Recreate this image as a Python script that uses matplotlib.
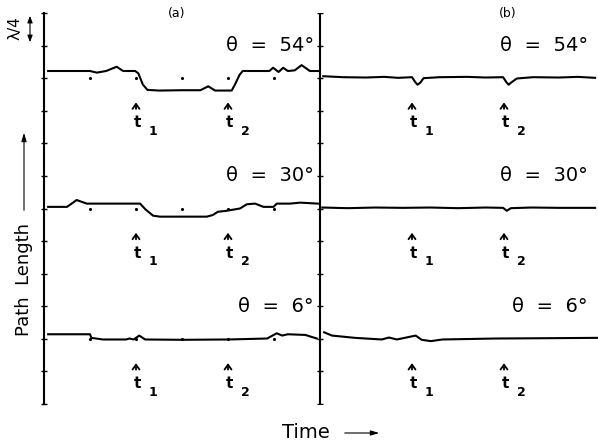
import matplotlib
matplotlib.use('Agg')
import matplotlib.pyplot as plt

# time in units of the dotted grid (t1 = 2, t2 = 4), path length in units of lambda/4 ticks
t_a54 = [0.09, 1.0, 1.15, 1.35, 1.58, 1.72, 1.98, 2.05, 2.15, 2.25, 2.5, 3.0, 3.4, 3.57, 3.72,
         4.08, 4.15, 4.25, 4.32, 4.9, 4.98, 5.1, 5.2, 5.3, 5.45, 5.6, 5.78, 5.96]
p_a54 = [10.22, 10.22, 10.17, 10.22, 10.35, 10.22, 10.22, 10.15, 9.8, 9.64, 9.62, 9.63, 9.63, 9.75, 9.62,
         9.62, 9.8, 10.1, 10.22, 10.22, 10.32, 10.19, 10.32, 10.22, 10.24, 10.40, 10.22, 10.22]

t_b54 = [0.07, 0.5, 1.0, 1.4, 1.7, 2.0, 2.07, 2.12, 2.18, 2.25, 2.6, 3.2, 3.6, 3.98, 4.05, 4.1,
         4.16, 4.28, 4.63, 5.2, 5.6, 5.98]
p_b54 = [10.06, 10.03, 10.02, 10.04, 10.01, 10.03, 9.88, 9.8, 9.86, 10.0, 10.03, 10.04, 10.02, 10.03,
         9.88, 9.8, 9.87, 9.99, 10.03, 10.02, 10.04, 10.01]

t_a30 = [0.09, 0.5, 0.71, 0.93, 2.09, 2.2, 2.37, 2.52, 3.54, 3.67, 3.78, 3.97, 4.26, 4.41, 4.59,
         4.77, 4.99, 5.06, 5.35, 5.57, 5.96]
p_a30 = [6.05, 6.05, 6.26, 6.15, 6.15, 5.98, 5.78, 5.75, 5.75, 5.80, 5.90, 5.93, 6.0, 6.13, 6.15,
         6.05, 6.05, 6.15, 6.15, 6.18, 6.15]

t_b30 = [0.05, 0.6, 1.2, 1.8, 2.4, 3.0, 3.6, 3.98, 4.06, 4.15, 4.6, 5.2, 5.98]
p_b30 = [6.03, 6.01, 6.03, 6.02, 6.03, 6.01, 6.03, 6.02, 5.93, 6.01, 6.03, 6.02, 6.02]

t_a6 = [0.09, 1.0, 1.03, 1.28, 1.78, 1.86, 1.95, 2.07, 2.2, 3.0, 4.0, 4.85, 5.06, 5.18, 5.3, 5.68, 5.93]
p_a6 = [2.14, 2.14, 2.03, 1.98, 1.98, 2.01, 1.98, 2.10, 1.98, 1.97, 1.98, 2.01, 2.17, 2.10, 2.14, 2.12, 2.01]

t_b6 = [0.09, 0.26, 0.76, 1.34, 1.5, 1.67, 2.08, 2.21, 2.41, 2.66, 3.82, 5.0, 6.02]
p_b6 = [2.2, 2.1, 2.03, 1.98, 2.04, 1.98, 2.10, 1.97, 1.93, 1.98, 2.01, 2.02, 2.03]

angles = ['54', '30', '6']
baselines = [10, 6, 2]
t_events = [2, 4]
grid_times = [1, 2, 3, 4, 5]

fig = plt.figure(figsize=(5.98, 4.46), dpi=100)
ax = fig.add_axes([44/598, 42/446, 554/598, 391/446])
ax.set_xlim(0, 554/46)
ax.set_ylim(0, 12)
for s in ['top', 'right', 'bottom']:
    ax.spines[s].set_visible(False)
ax.spines['left'].set_linewidth(1.5)
ax.set_xticks([])
ax.set_yticks(range(13))
ax.set_yticklabels([])
ax.tick_params(axis='y', direction='inout', length=4, width=1)

# middle axis with its ticks
ax.axvline(6, color='k', lw=1.5)
ax.plot([6]*13, range(13), ls='none', marker='_', ms=5, mew=1, color='k')

# traces
traces = [(t_a54, p_a54, t_b54, p_b54), (t_a30, p_a30, t_b30, p_b30), (t_a6, p_a6, t_b6, p_b6)]
for (ta, pa, tb, pb) in traces:
    ax.plot(ta, pa, color='k', lw=1.5, solid_joinstyle='round')
    ax.plot([6 + t for t in tb], pb, color='k', lw=1.5, solid_joinstyle='round')

# grid dots of panel (a)
for b in baselines:
    ax.plot(grid_times, [b]*len(grid_times), ls='none', marker='.', ms=2.5, color='k')

for ang, b in zip(angles, baselines):
    ax.text(5.87, b + 1.0, 'θ  =  ' + ang + '°', ha='right', va='center', fontsize=14)
    ax.text(11.82, b + 1.0, 'θ  =  ' + ang + '°', ha='right', va='center', fontsize=14)
    for off in [0, 6]:
        for k, te in enumerate(t_events):
            x = off + te
            ax.annotate('', xy=(x, b - 0.66), xytext=(x, b - 1.03),
                        arrowprops=dict(arrowstyle='->,head_length=0.35,head_width=0.25', lw=1.3, color='k'))
            ax.text(x + 0.04, b - 1.37, 't', ha='center', va='center', fontsize=11, fontweight='bold')
            ax.text(x + 0.37, b - 1.64, str(k + 1), ha='center', va='center', fontsize=9, fontweight='bold')

ax.text(2.89, 12.0, '(a)', ha='center', va='center', fontsize=9)
ax.text(10.07, 12.0, '(b)', ha='center', va='center', fontsize=9)

# axis labels
fig.text(24/598, 1 - 280/446, 'Path  Length', rotation=90, ha='center', va='center', fontsize=13)
fig.text(306/598, 1 - 433/446, 'Time', ha='center', va='center', fontsize=14)
ax.annotate('', xy=(24/598, 1 - 130/446), xytext=(24/598, 1 - 213/446), xycoords='figure fraction',
            arrowprops=dict(arrowstyle='-|>,head_length=0.5,head_width=0.15', lw=0.8, color='k'))
ax.annotate('', xy=(382/598, 1 - 433/446), xytext=(342/598, 1 - 433/446), xycoords='figure fraction',
            arrowprops=dict(arrowstyle='-|>,head_length=0.5,head_width=0.15', lw=0.8, color='k'))

# lambda/4 scale
fig.text(15/598, 1 - 28/446, 'λ/4', rotation=90, ha='center', va='center', fontsize=11)
ax.annotate('', xy=(30/598, 1 - 13/446), xytext=(30/598, 1 - 45/446), xycoords='figure fraction',
            arrowprops=dict(arrowstyle='<|-|>,head_length=0.4,head_width=0.15', lw=0.8, color='k'))

fig.savefig('out.png', dpi=100)
